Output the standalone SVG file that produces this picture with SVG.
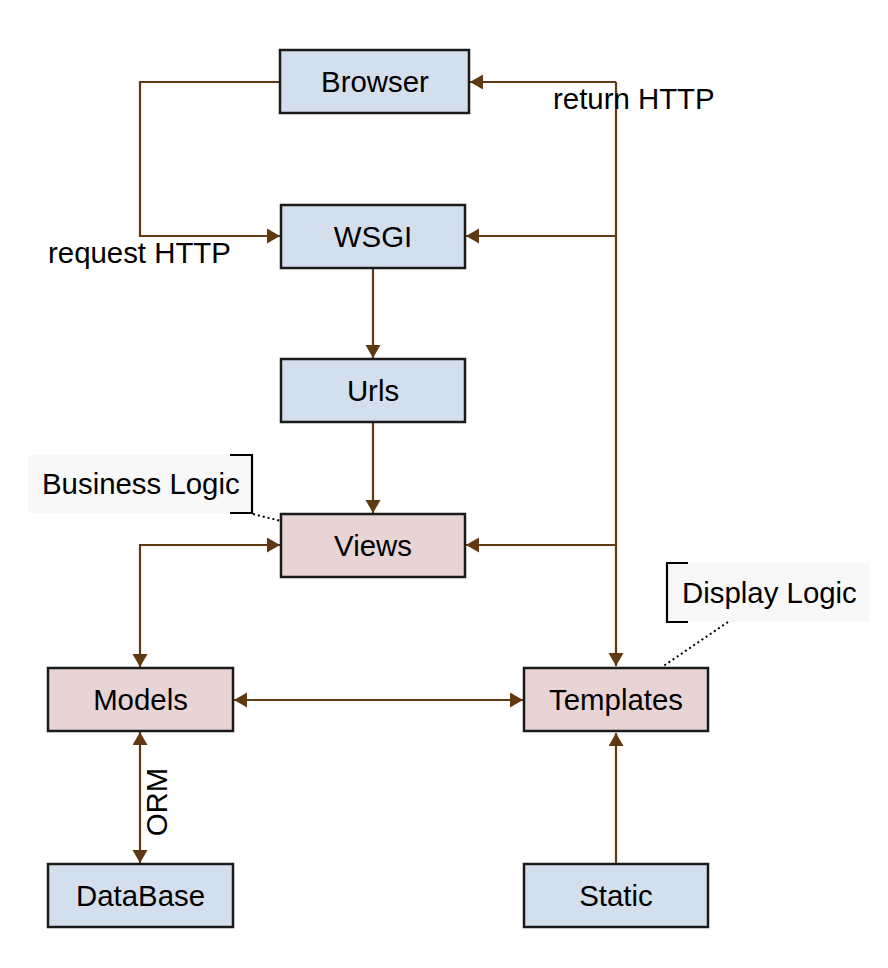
<svg xmlns="http://www.w3.org/2000/svg" width="888" height="968" viewBox="0 0 888 968">
<style>
.box{stroke:#1a1a1a;stroke-width:2.5}
.blue{fill:#d4dfed}
.pink{fill:#e8d4d4}
.t{font-family:"Liberation Sans",Arial,sans-serif;font-size:29.4px;fill:#000}
.c{text-anchor:middle}
.e{fill:none;stroke:#603913;stroke-width:2.2}
.br{fill:none;stroke:#000;stroke-width:2.2}
.dot{fill:none;stroke:#000;stroke-width:2;stroke-dasharray:2 3}
</style>
<defs>
<marker id="a" markerUnits="userSpaceOnUse" markerWidth="14" markerHeight="16" refX="13" refY="7.5" orient="auto-start-reverse">
<path d="M0,0 L13,7.5 L0,15 z" fill="#603913"/>
</marker>
</defs>
<rect width="888" height="968" fill="#fff"/>
<g id="connectors">
<path class="e" d="M280,82 H140 V236 H280" marker-end="url(#a)"/>
<path class="e" d="M616,82 H470" marker-end="url(#a)"/>
<path class="e" d="M616,236 H466" marker-end="url(#a)"/>
<path class="e" d="M616,545 H466" marker-end="url(#a)"/>
<path class="e" d="M616,82 V666" marker-end="url(#a)"/>
<path class="e" d="M373,268 V358" marker-end="url(#a)"/>
<path class="e" d="M373,422 V513" marker-end="url(#a)"/>
<path class="e" d="M280,545 H140 V667" marker-start="url(#a)" marker-end="url(#a)"/>
<path class="e" d="M234,700 H523" marker-start="url(#a)" marker-end="url(#a)"/>
<path class="e" d="M140,732 V863" marker-start="url(#a)" marker-end="url(#a)"/>
<path class="e" d="M616,864 V733" marker-end="url(#a)"/>
<text class="t" x="48" y="263">request HTTP</text>
<text class="t" x="553" y="109">return HTTP</text>
<text class="t c" transform="translate(167,802) rotate(-90)">ORM</text>
</g>
<g id="browser"><rect class="box blue" x="280" y="50" width="189" height="63"/><text class="t c" x="375" y="92">Browser</text></g>
<g id="wsgi"><rect class="box blue" x="281" y="205" width="184" height="63"/><text class="t c" x="373" y="247">WSGI</text></g>
<g id="urls"><rect class="box blue" x="281" y="359" width="184" height="63"/><text class="t c" x="373" y="401">Urls</text></g>
<g id="views"><rect class="box pink" x="281" y="514" width="184" height="63"/><text class="t c" x="373" y="556">Views</text></g>
<g id="models"><rect class="box pink" x="48" y="668" width="185" height="63"/><text class="t c" x="140.5" y="710">Models</text></g>
<g id="templates"><rect class="box pink" x="524" y="668" width="184" height="63"/><text class="t c" x="616" y="710">Templates</text></g>
<g id="database"><rect class="box blue" x="48" y="864" width="185" height="63"/><text class="t c" x="140.5" y="906">DataBase</text></g>
<g id="static"><rect class="box blue" x="524" y="864" width="184" height="63"/><text class="t c" x="616" y="906">Static</text></g>
<g id="business-logic">
<rect x="28" y="455" width="224" height="58" fill="#f8f8f8"/>
<path class="br" d="M230,455 H252 V513 H230"/>
<path class="dot" d="M253,514 L281,521"/>
<text class="t" x="42" y="494">Business Logic</text>
</g>
<g id="display-logic">
<rect x="667" y="563" width="202" height="59" fill="#f8f8f8"/>
<path class="br" d="M688,563 H667 V622 H688"/>
<path class="dot" d="M728,622 L662,667"/>
<text class="t" x="682" y="603">Display Logic</text>
</g>
</svg>
